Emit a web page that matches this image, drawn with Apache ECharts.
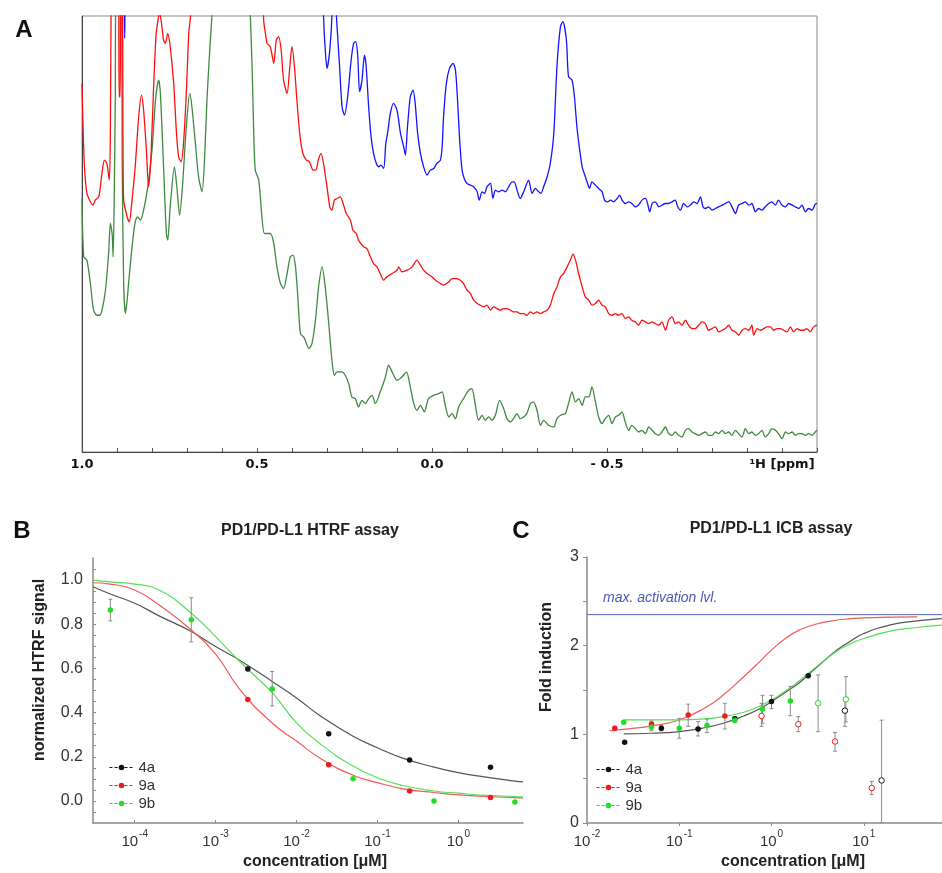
<!DOCTYPE html>
<html><head><meta charset="utf-8">
<script src="https://cdn.jsdelivr.net/npm/echarts@6/dist/echarts.min.js"></script>
<style>html,body{margin:0;padding:0;background:#fff}#c{width:942px;height:873px}</style>
</head><body><div id="c"></div>
<script>
// ---------- Panel A: 1H NMR spectra (ppm, intensity a.u.) ----------
const nmrBlue = [[1.000,1500],[0.882,1500],[0.878,1240],[0.874,1500],[0.315,1500],
[0.310,1307],[0.305,1205],[0.300,1150],[0.292,1205],[0.286,1307],[0.283,1500],[0.276,1500],[0.273,1307],[0.270,1255],[0.264,1155],[0.257,1035],[0.250,1010],[0.241,1065],[0.231,1175],[0.224,1225],[0.218,1230],[0.212,1185],[0.207,1080],[0.200,1115],[0.193,1190],[0.188,1155],[0.181,1035],[0.174,945],[0.167,895],[0.159,865],[0.152,855],[0.146,860],[0.138,850],[0.132,925],[0.127,955],[0.119,1015],[0.110,1045],[0.100,1025],[0.090,955],[0.081,915],[0.076,890],[0.070,975],[0.062,1065],[0.054,1085],[0.048,1045],[0.041,955],[0.033,895],[0.024,855],[0.014,830],[0.005,845],[-0.005,850],[-0.014,865],[-0.024,875],[-0.029,915],[-0.033,1005],[-0.041,1105],[-0.050,1150],[-0.060,1165],[-0.067,1145],[-0.073,1055],[-0.079,935],[-0.086,845],[-0.092,820],[-0.100,805],[-0.110,800],[-0.119,795],[-0.129,780],[-0.135,755],[-0.143,780],[-0.150,775],[-0.157,795],[-0.167,805],[-0.174,760],[-0.181,785],[-0.190,780],[-0.200,785],[-0.210,780],[-0.219,795],[-0.229,810],[-0.235,810],[-0.243,785],[-0.252,760],[-0.262,780],[-0.276,815],[-0.286,775],[-0.295,790],[-0.305,780],[-0.311,775],[-0.319,795],[-0.329,825],[-0.338,865],[-0.348,955],[-0.357,1155],[-0.367,1275],
[-0.374,1290],[-0.384,1235],[-0.390,1125],[-0.400,1115],[-0.407,1065],[-0.414,975],[-0.422,905],[-0.429,855],[-0.435,835],[-0.443,810],[-0.450,790],[-0.457,810],[-0.467,800],[-0.476,790],[-0.486,780],[-0.493,755],[-0.502,750],[-0.510,755],[-0.519,750],[-0.529,760],[-0.536,770],[-0.543,755],[-0.552,745],[-0.562,750],[-0.571,745],[-0.581,735],[-0.590,740],[-0.600,755],[-0.610,760],[-0.617,740],[-0.622,720],[-0.629,745],[-0.638,750],[-0.648,735],[-0.657,740],[-0.667,745],[-0.676,745],[-0.686,750],[-0.695,755],[-0.702,735],[-0.710,725],[-0.719,745],[-0.729,735],[-0.738,740],[-0.748,750],[-0.757,745],[-0.767,765],[-0.774,735],[-0.781,730],[-0.790,735],[-0.800,725],[-0.810,730],[-0.819,735],[-0.829,740],[-0.838,745],[-0.848,750],[-0.857,735],[-0.867,715],[-0.876,740],[-0.886,745],[-0.895,750],[-0.905,740],[-0.914,745],[-0.924,720],[-0.933,730],[-0.943,725],[-0.952,735],[-0.962,745],[-0.971,750],[-0.981,740],[-0.990,755],[-1.000,740],[-1.010,735],[-1.019,745],[-1.029,740],[-1.038,735],[-1.048,730],[-1.057,740],[-1.067,720],[-1.076,730],[-1.086,725],[-1.095,743],[-1.100,745]];

const nmrRed = [[1.000,1105],[0.997,975],[0.993,855],[0.986,775],[0.976,750],[0.969,740],[0.962,755],[0.952,765],[0.943,835],[0.936,875],[0.929,865],[0.922,815],[0.919,955],[0.917,1307],[0.915,1500],[0.896,1500],[0.894,1065],[0.891,1065],[0.889,1500],[0.885,1500],[0.883,955],[0.881,755],[0.871,705],[0.865,690],[0.857,755],[0.848,855],[0.838,1005],[0.830,1070],[0.824,1025],[0.816,905],[0.810,795],[0.803,885],[0.795,1105],[0.788,1255],[0.781,1307],[0.779,1320],[0.774,1295],[0.767,1235],[0.762,1225],[0.755,1255],[0.748,1215],[0.738,1105],[0.730,955],[0.724,885],[0.717,870],[0.710,925],[0.702,1075],[0.695,1255],[0.690,1307],[0.688,1500],[0.484,1500],[0.481,1295],[0.476,1255],[0.471,1225],[0.462,1215],[0.452,1165],[0.445,1235],[0.438,1245],[0.431,1205],[0.424,1115],[0.414,1075],[0.407,1145],[0.400,1215],[0.393,1155],[0.386,1055],[0.378,955],[0.369,895],[0.359,875],[0.350,870],[0.340,845],[0.332,845],[0.325,875],[0.317,895],[0.310,865],[0.300,795],[0.292,735],[0.286,725],[0.279,755],[0.271,760],[0.262,765],[0.254,745],[0.245,715],[0.233,695],[0.226,665],[0.216,655],[0.210,635],
[0.195,615],[0.186,610],[0.176,585],[0.167,565],[0.157,555],[0.148,535],[0.138,515],[0.129,525],[0.114,535],[0.100,545],[0.095,555],[0.086,540],[0.071,545],[0.057,555],[0.043,575],[0.033,560],[0.024,545],[0.014,535],[0.000,525],[-0.010,515],[-0.024,505],[-0.033,500],[-0.048,510],[-0.057,520],[-0.071,520],[-0.081,515],[-0.090,505],[-0.100,485],[-0.110,475],[-0.119,455],[-0.129,445],[-0.138,440],[-0.148,435],[-0.157,440],[-0.167,425],[-0.176,435],[-0.186,430],[-0.195,425],[-0.205,430],[-0.214,430],[-0.224,425],[-0.233,420],[-0.243,420],[-0.252,415],[-0.262,415],[-0.271,410],[-0.281,420],[-0.290,415],[-0.300,420],[-0.310,415],[-0.319,420],[-0.329,425],[-0.338,440],[-0.348,475],[-0.357,495],
[-0.367,525],[-0.376,535],[-0.386,555],[-0.395,575],[-0.403,593],[-0.410,575],[-0.419,535],[-0.429,495],[-0.438,465],[-0.448,455],[-0.457,440],[-0.467,445],[-0.476,455],[-0.486,440],[-0.495,435],[-0.505,415],[-0.514,410],[-0.524,415],[-0.533,410],[-0.543,415],[-0.552,400],[-0.562,405],[-0.571,395],[-0.581,390],[-0.590,380],[-0.600,395],[-0.610,390],[-0.619,385],[-0.629,390],[-0.638,385],[-0.648,380],[-0.657,390],[-0.667,365],[-0.676,395],[-0.686,405],[-0.695,385],[-0.705,390],[-0.714,380],[-0.724,395],[-0.733,380],[-0.743,370],[-0.752,370],[-0.762,380],[-0.771,390],[-0.781,385],[-0.790,365],[-0.800,370],[-0.810,375],[-0.819,360],[-0.829,365],[-0.838,370],[-0.848,380],[-0.857,365],[-0.867,360],[-0.876,350],[-0.886,365],[-0.895,370],[-0.905,365],[-0.914,380],[-0.919,350],[-0.929,370],[-0.938,365],[-0.948,370],[-0.957,375],[-0.967,375],[-0.976,365],[-0.986,370],[-0.995,370],[-1.005,365],[-1.014,360],[-1.024,375],[-1.033,360],[-1.043,370],[-1.052,365],[-1.062,365],[-1.071,370],[-1.081,360],[-1.090,375],[-1.100,380]];

const nmrGreen = [[1.000,760],[0.995,585],[0.986,575],[0.976,505],[0.967,425],[0.957,410],[0.950,410],[0.943,425],[0.933,485],[0.924,595],[0.919,685],[0.914,655],[0.911,585],[0.908,755],[0.905,1055],[0.902,1500],[0.889,1500],[0.885,855],[0.881,505],[0.876,415],[0.871,455],[0.867,505],[0.857,615],[0.848,690],[0.841,705],[0.833,695],[0.824,725],[0.812,795],[0.800,905],[0.790,1055],[0.781,1115],[0.776,1075],[0.767,855],[0.759,655],[0.755,635],[0.748,735],[0.736,855],[0.729,795],[0.721,710],[0.713,795],[0.702,975],[0.692,1075],[0.686,1035],[0.676,925],[0.667,825],[0.657,780],[0.650,875],[0.643,1055],[0.635,1205],[0.629,1307],[0.624,1500],[0.524,1500],[0.519,1307],[0.514,1155],[0.510,985],[0.505,845],[0.495,815],[0.486,705],[0.479,655],[0.471,655],[0.462,655],[0.452,625],[0.443,555],[0.433,505],[0.424,490],[0.414,535],[0.405,585],[0.397,590],[0.390,555],[0.384,475],[0.376,355],[0.367,345],[0.362,335],[0.352,310],[0.343,325],[0.333,395],[0.324,495],[0.314,555],[0.305,495],[0.295,385],[0.286,275],[0.279,230],[0.271,240],[0.257,240],[0.248,230],[0.238,205],[0.229,165],[0.219,160],[0.210,135],
[0.200,155],[0.190,145],[0.181,160],[0.171,170],[0.162,145],[0.148,180],[0.133,225],[0.124,260],[0.114,240],[0.100,215],[0.086,225],[0.073,240],[0.062,195],[0.052,145],[0.043,125],[0.033,140],[0.022,120],[0.010,160],[-0.005,170],[-0.019,175],[-0.029,180],[-0.038,140],[-0.048,105],[-0.057,115],[-0.067,100],[-0.076,135],[-0.090,160],[-0.105,185],[-0.114,190],[-0.124,140],[-0.133,95],[-0.143,110],[-0.152,95],[-0.162,105],[-0.171,95],[-0.181,110],[-0.193,155],[-0.205,130],[-0.214,100],[-0.224,90],[-0.233,100],[-0.243,115],[-0.252,100],[-0.262,105],[-0.271,115],[-0.281,145],[-0.290,150],[-0.300,125],[-0.310,80],[-0.319,95],[-0.333,80],[-0.348,75],[-0.357,100],
[-0.367,110],[-0.381,115],[-0.390,145],[-0.400,180],[-0.410,150],[-0.419,160],[-0.429,140],[-0.438,165],[-0.448,165],[-0.457,195],[-0.467,150],[-0.476,105],[-0.486,85],[-0.495,100],[-0.505,110],[-0.514,85],[-0.524,105],[-0.533,110],[-0.543,120],[-0.552,90],[-0.562,65],[-0.571,80],[-0.581,70],[-0.590,60],[-0.600,65],[-0.610,55],[-0.619,75],[-0.629,65],[-0.638,55],[-0.648,50],[-0.657,60],[-0.667,75],[-0.676,55],[-0.686,50],[-0.695,60],[-0.705,50],[-0.714,45],[-0.724,65],[-0.733,70],[-0.743,60],[-0.752,55],[-0.762,50],[-0.771,55],[-0.781,60],[-0.790,50],[-0.800,50],[-0.810,60],[-0.819,55],[-0.829,65],[-0.838,55],[-0.848,60],[-0.857,50],[-0.867,65],[-0.876,55],[-0.886,45],[-0.895,70],[-0.905,55],[-0.914,60],[-0.924,50],[-0.933,55],[-0.943,65],[-0.952,45],[-0.962,55],[-0.971,70],[-0.981,65],[-0.990,55],[-1.000,40],[-1.010,60],[-1.019,55],[-1.029,60],[-1.038,50],[-1.048,55],[-1.057,55],[-1.067,50],[-1.076,55],[-1.086,50],[-1.095,60],[-1.100,65]];

// ---------- Panel B: HTRF assay ----------
const bConc4a = [2.5e-3, 2.5e-2, 0.25, 2.5];
const bVal4a  = [0.597, 0.304, 0.185, 0.153];
const bConc9a = [2.5e-3, 2.5e-2, 0.25, 2.5];
const bVal9a  = [0.459, 0.164, 0.045, 0.015];
const bConc9b = [5e-5, 5e-4, 5e-3, 5e-2, 0.5, 5];
const bVal9b  = [0.865, 0.820, 0.507, 0.100, 0.000, -0.005];
const bErrLo9b = [0.815, 0.720, 0.430, null, null, null];
const bErrHi9b = [0.913, 0.920, 0.586, null, null, null];
const bFitConc = [3.05e-5, 5e-5, 1e-4, 2e-4, 5e-4, 1e-3, 2e-3, 5e-3, 1e-2, 2e-2, 5e-2, 0.1, 0.2, 0.5, 1, 2, 5, 6.3];
const bFit4a = [0.970, 0.937, 0.895, 0.838, 0.767, 0.699, 0.636, 0.541, 0.466, 0.383, 0.293, 0.241, 0.195, 0.153, 0.128, 0.110, 0.090, 0.086];
const bFit9a = [0.988, 0.982, 0.955, 0.887, 0.774, 0.665, 0.504, 0.353, 0.271, 0.191, 0.116, 0.083, 0.056, 0.038, 0.027, 0.021, 0.015, 0.014];
const bFit9b = [1.000, 0.992, 0.982, 0.955, 0.850, 0.744, 0.630, 0.490, 0.353, 0.256, 0.158, 0.105, 0.071, 0.045, 0.035, 0.026, 0.020, 0.018];
const bYTicks = [0, 0.2, 0.4, 0.6, 0.8, 1.0];
const bXTicks = [1e-4, 1e-3, 1e-2, 1e-1, 1];

// ---------- Panel C: ICB assay ----------
const cConc4a = [0.0256, 0.064, 0.16, 0.4, 1, 2.5, 6.25, 15.6];
const cVal4a  = [0.911, 1.069, 1.061, 1.177, 1.369, 1.661, 1.267, 0.480];
const cLo4a   = [null, 1.04, 0.982, 1.14, 1.29, null, 1.09, 0];
const cHi4a   = [null, 1.10, 1.144, 1.20, 1.44, null, 1.41, 1.16];
const cOpen4a = [false, false, false, false, false, false, true, true];
const cConc9a = [0.02, 0.05, 0.125, 0.3125, 0.78, 1.95, 4.88, 12.2];
const cVal9a  = [1.069, 1.117, 1.219, 1.207, 1.207, 1.114, 0.919, 0.394];
const cLo9a   = [1.04, 1.08, 1.09, 1.06, 1.09, 1.03, 0.81, 0.32];
const cHi9a   = [1.09, 1.15, 1.34, 1.35, 1.35, 1.20, 1.02, 0.47];
const cOpen9a = [false, false, false, false, true, true, true, true];
const cConc9b = [0.025, 0.05, 0.1, 0.2, 0.4, 0.8, 1.6, 3.2, 6.4];
const cVal9b  = [1.136, 1.080, 1.069, 1.100, 1.160, 1.286, 1.376, 1.350, 1.395];
const cLo9b   = [null, 1.04, 0.956, 1.02, 1.13, 1.125, 1.21, 1.03, 1.14];
const cHi9b   = [null, 1.12, 1.18, 1.17, 1.19, 1.44, 1.54, 1.67, 1.65];
const cOpen9b = [false, false, false, false, false, false, false, true, true];
const cFitConc4a = [0.025, 0.05, 0.1, 0.2, 0.3, 0.5, 0.7, 1, 1.5, 2, 3, 5, 7, 10, 20, 38, 70];
const cFit4a = [1.005, 1.012, 1.031, 1.080, 1.125, 1.207, 1.275, 1.369, 1.492, 1.582, 1.744, 1.942, 2.044, 2.137, 2.238, 2.280, 2.306];
const cFitConc9a = [0.0176, 0.03, 0.05, 0.1, 0.2, 0.3, 0.5, 0.7, 1, 1.5, 2, 3, 5, 7, 10, 20, 38];
const cFit9a = [1.042, 1.065, 1.095, 1.162, 1.312, 1.444, 1.650, 1.792, 1.950, 2.100, 2.175, 2.242, 2.287, 2.302, 2.314, 2.321, 2.325];
const cFitConc9b = [0.025, 0.05, 0.1, 0.2, 0.3, 0.5, 0.7, 1, 1.5, 2, 3, 5, 7, 10, 20, 38, 70];
const cFit9b = [1.162, 1.162, 1.162, 1.177, 1.200, 1.249, 1.305, 1.387, 1.507, 1.605, 1.755, 1.931, 2.017, 2.081, 2.167, 2.205, 2.231];
const cMaxLevel = 2.35;
const cXTicks = [0.01, 0.1, 1, 10, 100];

// ---------- colours ----------
const C_BLK = '#111111', C_RED = '#ee1c1c', C_GRN = '#22dd22';
const FIT_BLK = '#555555', FIT_RED = '#f25a5a', FIT_GRN = '#55e055';
const AX = '#8a8a8a';
const FONT = '"Liberation Sans", Arial, sans-serif';

function zip(a, b) { return a.map((v, i) => [v, b[i]]); }
function errData(x, lo, hi) { const o = []; x.forEach((v, i) => { if (lo[i] != null) o.push([v, lo[i], hi[i]]); }); return o; }
function ptData(x, y, open, color) {
  return x.map((v, i) => open && open[i]
    ? { value: [v, y[i]], itemStyle: { color: '#fff', borderColor: color, borderWidth: 1 } }
    : { value: [v, y[i]] });
}
function errSeries(xi, yi, data) {
  return { type: 'custom', xAxisIndex: xi, yAxisIndex: yi, data: data, z: 2, silent: true, clip: true,
    encode: { x: 0, y: [1, 2] },
    renderItem: function (params, api) {
      const x = api.value(0);
      const p1 = api.coord([x, api.value(1)]);
      const p2 = api.coord([x, api.value(2)]);
      const st = { stroke: '#8c8c8c', lineWidth: 1 };
      return { type: 'group', children: [
        { type: 'line', shape: { x1: p1[0], y1: p1[1], x2: p2[0], y2: p2[1] }, style: st },
        { type: 'line', shape: { x1: p1[0] - 2, y1: p1[1], x2: p1[0] + 2, y2: p1[1] }, style: st },
        { type: 'line', shape: { x1: p2[0] - 2, y1: p2[1], x2: p2[0] + 2, y2: p2[1] }, style: st }
      ] };
    } };
}
function fitSeries(name, xi, yi, x, y, color) {
  return { name: name, type: 'line', xAxisIndex: xi, yAxisIndex: yi, data: zip(x, y), showSymbol: false,
    smooth: true, lineStyle: { color: color, width: 1.2 }, z: 1, silent: true };
}
function ptSeries(name, xi, yi, x, y, open, color) {
  return { name: name, type: 'line', xAxisIndex: xi, yAxisIndex: yi, data: ptData(x, y, open, color),
    symbol: 'circle', symbolSize: 5.5, showSymbol: true, itemStyle: { color: color },
    lineStyle: { color: color, opacity: 0, width: 1 }, z: 3 };
}
const nmrSeries = (d, color) => ({ type: 'line', xAxisIndex: 0, yAxisIndex: 0, data: d, showSymbol: false,
  smooth: 0.25, lineStyle: { color: color, width: 1.3 }, clip: true, silent: true });

const supRich = { b: { fontSize: 15, fontFamily: FONT, color: '#333', lineHeight: 20, verticalAlign: 'bottom' },
                  s: { fontSize: 10, fontFamily: FONT, color: '#333', lineHeight: 20, verticalAlign: 'top', padding: [0, 0, 0, 1] } };
const logFmt = v => '{b|10}{s|' + Math.round(Math.log10(v)) + '}';

const chart = echarts.init(document.getElementById('c'), null, { renderer: 'canvas' });
chart.setOption({
  backgroundColor: '#fff',
  animation: false,
  grid: [
    { left: 82, top: 16, width: 735, height: 436, show: true, borderColor: '#8a8a8a', borderWidth: 1, containLabel: false, outerBoundsMode: 'none' },
    { left: 93, top: 558, width: 430, height: 265, containLabel: false, outerBoundsMode: 'none' },
    { left: 587, top: 557, width: 369, height: 266, containLabel: false, outerBoundsMode: 'none' }
  ],
  xAxis: [
    { gridIndex: 0, type: 'value', min: -1.1, max: 1.0, interval: 0.1, inverse: true,
      axisLine: { onZero: false, lineStyle: { color: '#444', width: 1 } },
      axisTick: { inside: true, length: 4, interval: 0, lineStyle: { color: '#555' } },
      splitLine: { show: false },
      axisLabel: { interval: 0, margin: 6, color: '#111', fontFamily: '"DejaVu Sans", Verdana, sans-serif', fontWeight: 'bold', fontSize: 13,
        formatter: v => { const r = Math.round(v * 10); return r === 10 ? '1.0' : r === 5 ? '0.5' : r === 0 ? '0.0' : r === -5 ? '- 0.5' : r === -10 ? '\u00B9H [ppm]' : ''; } } },
    { gridIndex: 1, type: 'log', logBase: 10, min: 3.05e-5, max: 6.3,
      axisLine: { onZero: false, lineStyle: { color: AX, width: 1.5 } },
      axisTick: { inside: true, length: 3, customValues: bXTicks, lineStyle: { color: AX } },
      splitLine: { show: false }, minorTick: { show: false },
      axisLabel: { customValues: bXTicks, margin: 6, formatter: logFmt, rich: supRich } },
    { gridIndex: 2, type: 'log', logBase: 10, min: 0.01, max: 100,
      axisLine: { onZero: false, lineStyle: { color: AX, width: 1.5 } },
      axisTick: { length: 3, customValues: cXTicks, lineStyle: { color: AX } },
      splitLine: { show: false }, minorTick: { show: false },
      axisLabel: { customValues: cXTicks, margin: 6, formatter: logFmt, rich: supRich } }
  ],
  yAxis: [
    { gridIndex: 0, type: 'value', min: 0, max: 1307, axisLabel: { show: false }, axisTick: { show: false },
      splitLine: { show: false }, axisLine: { show: true, onZero: false, lineStyle: { color: '#444' } } },
    { gridIndex: 1, type: 'value', min: -0.1, max: 1.1,
      axisLine: { show: true, onZero: false, lineStyle: { color: AX, width: 1.5 } },
      axisTick: { show: true, inside: true, length: 3,
        customValues: [-0.05, 0, 0.05, 0.1, 0.15, 0.2, 0.25, 0.3, 0.35, 0.4, 0.45, 0.5, 0.55, 0.6, 0.65, 0.7, 0.75, 0.8, 0.85, 0.9, 0.95, 1.0, 1.05],
        lineStyle: { color: AX } },
      splitLine: { show: false },
      axisLabel: { customValues: bYTicks, margin: 10, color: '#333', fontFamily: FONT, fontSize: 16, formatter: v => v.toFixed(1) } },
    { gridIndex: 2, type: 'value', min: 0, max: 3, interval: 0.5,
      axisLine: { show: true, onZero: false, lineStyle: { color: AX, width: 1.5 } },
      axisTick: { show: true, length: 4, lineStyle: { color: AX } },
      splitLine: { show: false },
      axisLabel: { margin: 8, color: '#333', fontFamily: FONT, fontSize: 16, formatter: v => (Math.abs(v - Math.round(v)) < 1e-6 ? String(Math.round(v)) : '') } }
  ],
  legend: [
    { left: 104, top: 755, orient: 'vertical', itemGap: 3, itemWidth: 24, itemHeight: 7,
      data: ['4a', '9a', '9b'], textStyle: { fontFamily: FONT, fontSize: 15, color: '#333' },
      lineStyle: { opacity: 1, type: [3, 2], width: 1 }, selectedMode: false },
    { left: 591, top: 757, orient: 'vertical', itemGap: 3, itemWidth: 24, itemHeight: 7,
      data: ['4a', '9a', '9b'], textStyle: { fontFamily: FONT, fontSize: 15, color: '#333' },
      lineStyle: { opacity: 1, type: [3, 2], width: 1 }, selectedMode: false }
  ],
  series: [
    nmrSeries(nmrGreen, '#3f8a3f'),
    nmrSeries(nmrRed, '#ff1010'),
    nmrSeries(nmrBlue, '#1414ff'),
    // Panel B
    fitSeries('4a fit', 1, 1, bFitConc, bFit4a, FIT_BLK),
    fitSeries('9a fit', 1, 1, bFitConc, bFit9a, FIT_RED),
    fitSeries('9b fit', 1, 1, bFitConc, bFit9b, FIT_GRN),
    errSeries(1, 1, errData(bConc9b, bErrLo9b, bErrHi9b)),
    ptSeries('4a', 1, 1, bConc4a, bVal4a, null, C_BLK),
    ptSeries('9a', 1, 1, bConc9a, bVal9a, null, C_RED),
    ptSeries('9b', 1, 1, bConc9b, bVal9b, null, C_GRN),
    // Panel C
    { type: 'line', xAxisIndex: 2, yAxisIndex: 2, data: [[0.01, cMaxLevel], [100, cMaxLevel]], showSymbol: false,
      lineStyle: { color: '#5566bb', width: 1 }, silent: true, z: 1 },
    fitSeries('4a fit', 2, 2, cFitConc4a, cFit4a, FIT_BLK),
    fitSeries('9a fit', 2, 2, cFitConc9a, cFit9a, FIT_RED),
    fitSeries('9b fit', 2, 2, cFitConc9b, cFit9b, FIT_GRN),
    errSeries(2, 2, errData(cConc4a, cLo4a, cHi4a)),
    errSeries(2, 2, errData(cConc9a, cLo9a, cHi9a)),
    errSeries(2, 2, errData(cConc9b, cLo9b, cHi9b)),
    ptSeries('4a', 2, 2, cConc4a, cVal4a, cOpen4a, C_BLK),
    ptSeries('9a', 2, 2, cConc9a, cVal9a, cOpen9a, C_RED),
    ptSeries('9b', 2, 2, cConc9b, cVal9b, cOpen9b, C_GRN)
  ],
  graphic: [
    { type: 'text', x: 24, y: 30, style: { text: 'A', font: 'bold 24px ' + FONT, fill: '#111', textAlign: 'center', textVerticalAlign: 'middle', verticalAlign: 'middle' } },
    { type: 'text', x: 22, y: 531, style: { text: 'B', font: 'bold 24px ' + FONT, fill: '#111', textAlign: 'center', textVerticalAlign: 'middle', verticalAlign: 'middle' } },
    { type: 'text', x: 521, y: 531, style: { text: 'C', font: 'bold 24px ' + FONT, fill: '#111', textAlign: 'center', textVerticalAlign: 'middle', verticalAlign: 'middle' } },
    { type: 'text', x: 310, y: 531, style: { text: 'PD1/PD-L1 HTRF assay', font: 'bold 16px ' + FONT, fill: '#222', textAlign: 'center', textVerticalAlign: 'middle', verticalAlign: 'middle' } },
    { type: 'text', x: 771, y: 529, style: { text: 'PD1/PD-L1 ICB assay', font: 'bold 16px ' + FONT, fill: '#222', textAlign: 'center', textVerticalAlign: 'middle', verticalAlign: 'middle' } },
    { type: 'text', x: 40, y: 670, rotation: Math.PI / 2, style: { text: 'normalized HTRF signal', font: 'bold 16px ' + FONT, fill: '#222', textAlign: 'center', textVerticalAlign: 'middle', verticalAlign: 'middle' } },
    { type: 'text', x: 315, y: 862, style: { text: 'concentration [\u03BCM]', font: 'bold 16px ' + FONT, fill: '#222', textAlign: 'center', textVerticalAlign: 'middle', verticalAlign: 'middle' } },
    { type: 'text', x: 547, y: 657, rotation: Math.PI / 2, style: { text: 'Fold induction', font: 'bold 16px ' + FONT, fill: '#222', textAlign: 'center', textVerticalAlign: 'middle', verticalAlign: 'middle' } },
    { type: 'text', x: 793, y: 862, style: { text: 'concentration [\u03BCM]', font: 'bold 16px ' + FONT, fill: '#222', textAlign: 'center', textVerticalAlign: 'middle', verticalAlign: 'middle' } },
    { type: 'text', x: 603, y: 598, style: { text: 'max. activation lvl.', font: 'italic 14px ' + FONT, fill: '#4a5ab5', textAlign: 'left', textVerticalAlign: 'middle', verticalAlign: 'middle' } }
  ]
});
</script></body></html>
